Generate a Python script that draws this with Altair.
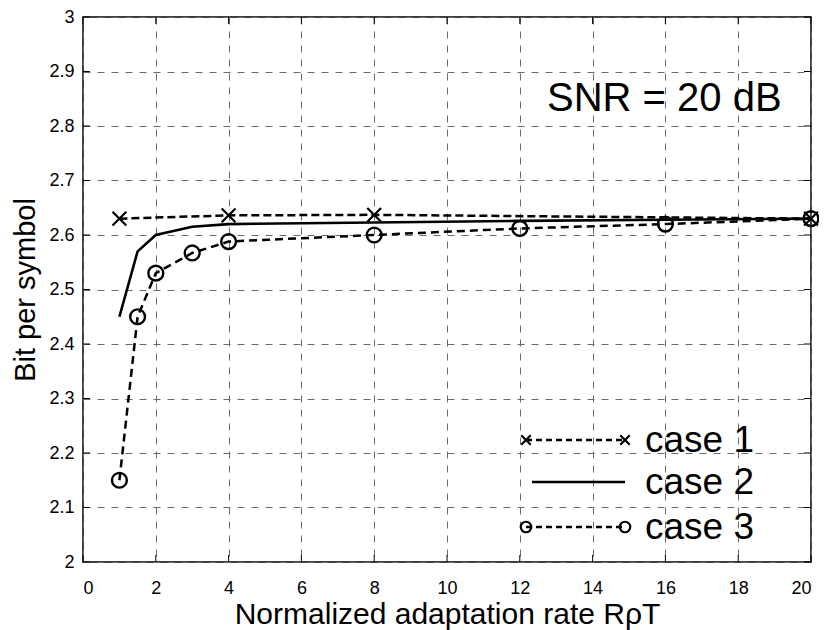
import altair as alt
import pandas as pd

# ---- data ----
x_case1 = [1, 4, 8, 20]
y_case1 = [2.630, 2.636, 2.637, 2.630]
x_case2 = [1, 1.5, 2, 3, 4, 8, 12, 16, 20]
y_case2 = [2.45, 2.57, 2.60, 2.615, 2.620, 2.623, 2.626, 2.628, 2.630]
x_case3 = [1, 1.5, 2, 3, 4, 8, 12, 16, 20]
y_case3 = [2.15, 2.45, 2.53, 2.567, 2.588, 2.600, 2.612, 2.620, 2.630]
x_ticks = [0, 2, 4, 6, 8, 10, 12, 14, 16, 18, 20]
y_ticks = [2.0, 2.1, 2.2, 2.3, 2.4, 2.5, 2.6, 2.7, 2.8, 2.9, 3.0]
legend_labels = ["case 1", "case 2", "case 3"]
annotation = ["SNR = 20 dB"]
x_title = "Normalized adaptation rate RρT"
y_title = "Bit per symbol"

W, H = 728, 545
FONT = "Liberation Sans, Arial, Helvetica, sans-serif"
CROSS = "M-1,-1L1,1M1,-1L-1,1"

df1 = pd.DataFrame({"x": x_case1, "y": y_case1})
df2 = pd.DataFrame({"x": x_case2, "y": y_case2})
df3 = pd.DataFrame({"x": x_case3, "y": y_case3})

xs = alt.Scale(domain=[0, 20], nice=False, zero=False)
ys = alt.Scale(domain=[2, 3], nice=False, zero=False)

xaxis = alt.Axis(values=x_ticks, grid=True, gridDash=[7, 7], gridColor="#6a6a6a",
                 gridWidth=1, ticks=False, domain=False, labelFontSize=18,
                 labelFont=FONT, labelColor="black", labelPadding=17,
                 title=x_title, titleFont=FONT, titleFontSize=30,
                 titleFontWeight="normal", titleColor="black", titlePadding=2)
yaxis = alt.Axis(values=y_ticks, grid=True, gridDash=[7, 7], gridColor="#6a6a6a",
                 gridWidth=1, ticks=False, domain=False, labelFontSize=18,
                 labelFont=FONT, labelColor="black", labelPadding=9,
                 title=y_title, titleFont=FONT, titleFontSize=29,
                 titleFontWeight="normal", titleColor="black", titlePadding=8,
                 labelExpr="datum.value == 2 ? '2' : datum.value == 3 ? '3' : format(datum.value, '.1f')")

base_axes = alt.Chart(pd.DataFrame({"x": [0], "y": [2]})).mark_point(opacity=0).encode(
    x=alt.X("x:Q", scale=xs, axis=xaxis),
    y=alt.Y("y:Q", scale=ys, axis=yaxis),
)

# inward ticks
dxt = pd.DataFrame({"x": x_ticks})
dyt = pd.DataFrame({"y": y_ticks})
tick_b = alt.Chart(dxt).mark_rule(color="black", strokeWidth=1).encode(
    x=alt.X("x:Q", scale=xs), y=alt.value(H), y2=alt.value(H - 7))
tick_t = alt.Chart(dxt).mark_rule(color="black", strokeWidth=1).encode(
    x=alt.X("x:Q", scale=xs), y=alt.value(0), y2=alt.value(7))
tick_l = alt.Chart(dyt).mark_rule(color="black", strokeWidth=1).encode(
    y=alt.Y("y:Q", scale=ys), x=alt.value(0), x2=alt.value(7))
tick_r = alt.Chart(dyt).mark_rule(color="black", strokeWidth=1).encode(
    y=alt.Y("y:Q", scale=ys), x=alt.value(W), x2=alt.value(W - 7))

line1 = alt.Chart(df1).mark_line(color="black", strokeWidth=2.5, strokeDash=[8, 4]).encode(
    x=alt.X("x:Q", scale=xs), y=alt.Y("y:Q", scale=ys))
pts1 = alt.Chart(df1).mark_point(shape=CROSS, size=190, color="black", strokeWidth=2.2,
                                 filled=False, opacity=1).encode(
    x=alt.X("x:Q", scale=xs), y=alt.Y("y:Q", scale=ys))
line2 = alt.Chart(df2).mark_line(color="black", strokeWidth=2.6).encode(
    x=alt.X("x:Q", scale=xs), y=alt.Y("y:Q", scale=ys))
line3 = alt.Chart(df3).mark_line(color="black", strokeWidth=2.5, strokeDash=[8, 5]).encode(
    x=alt.X("x:Q", scale=xs), y=alt.Y("y:Q", scale=ys))
pts3 = alt.Chart(df3).mark_point(shape="circle", size=220, color="black", strokeWidth=2.4,
                                 filled=False, opacity=1).encode(
    x=alt.X("x:Q", scale=xs), y=alt.Y("y:Q", scale=ys))

# annotation
ann = alt.Chart(pd.DataFrame({"t": annotation})).mark_text(
    align="left", baseline="middle", fontSize=40, font=FONT, color="black").encode(
    x=alt.value(464), y=alt.value(82), text="t:N")

# legend (drawn inside the plot, lower right)
LEG_Y = [423, 465, 510]
LX0, LX1, TX = 443, 542, 562
one = pd.DataFrame({"k": [0]})
legend_layers = []
for i, lab in enumerate(legend_labels):
    dash = [1, 0] if i == 1 else [6, 4]
    legend_layers.append(alt.Chart(one).mark_rule(color="black", strokeWidth=2.4,
                                                   strokeDash=dash).encode(
        x=alt.value(LX0 if i != 1 else 449), x2=alt.value(LX1), y=alt.value(LEG_Y[i])))
    if i != 1:
        shp = CROSS if i == 0 else "circle"
        for xx in (LX0, LX1):
            legend_layers.append(alt.Chart(one).mark_point(
                shape=shp, size=90 if i == 0 else 110, color="black", strokeWidth=2.2,
                filled=False, opacity=1).encode(x=alt.value(xx), y=alt.value(LEG_Y[i])))
    legend_layers.append(alt.Chart(pd.DataFrame({"t": [lab]})).mark_text(
        align="left", baseline="middle", fontSize=37, font=FONT, color="black").encode(
        x=alt.value(TX), y=alt.value(LEG_Y[i] + 1), text="t:N"))

chart = alt.layer(base_axes, tick_b, tick_t, tick_l, tick_r, line2, line1, pts1,
                  line3, pts3, ann, *legend_layers).properties(
    width=W, height=H, autosize=alt.AutoSizeParams(type="none"),
    padding={"left": 75, "top": 9, "right": 8, "bottom": 68},
    background="white"
).configure_view(stroke="black", strokeWidth=1.5)

chart.save("out.html", embed_options={"renderer": "svg", "actions": False})
